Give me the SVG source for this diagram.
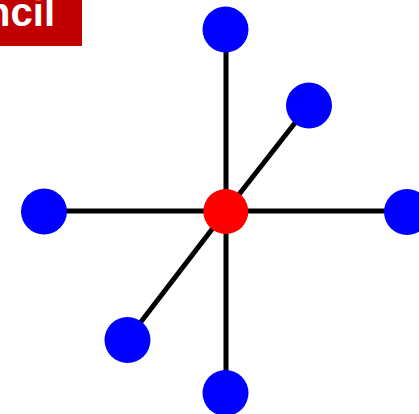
<svg xmlns="http://www.w3.org/2000/svg" width="419" height="414" viewBox="0 0 419 414">
<style>
.edge{stroke:#000;stroke-width:5;fill:none}
.leaf{fill:#0000ff}
.core{fill:#ff0000}
.title{font-family:"Liberation Sans",Arial,sans-serif;font-weight:bold;font-size:40px;fill:#fff}
</style>
<rect width="419" height="414" fill="#fff"/>
<g id="title">
<rect x="0" y="0" width="82" height="46" fill="#c00000"/>
<text class="title" x="55" y="26" text-anchor="end">Stencil</text>
</g>
<g id="connectors">
<line class="edge" x1="226" y1="211" x2="226" y2="29"/>
<line class="edge" x1="226" y1="211" x2="226" y2="393"/>
<line class="edge" x1="226" y1="211" x2="44" y2="211"/>
<line class="edge" x1="226" y1="211" x2="407" y2="211"/>
<line class="edge" x1="226" y1="211" x2="309" y2="105"/>
<line class="edge" x1="226" y1="211" x2="127" y2="340"/>
</g>
<g id="n-top"><circle class="leaf" cx="225.5" cy="29.5" r="23"/></g>
<g id="n-bottom"><circle class="leaf" cx="225.5" cy="393" r="23"/></g>
<g id="n-left"><circle class="leaf" cx="44" cy="211.5" r="23"/></g>
<g id="n-right"><circle class="leaf" cx="407" cy="212" r="23"/></g>
<g id="n-upright"><circle class="leaf" cx="309" cy="105.5" r="23"/></g>
<g id="n-lowleft"><circle class="leaf" cx="127.5" cy="340" r="23"/></g>
<g id="n-center"><circle class="core" cx="225.8" cy="211.5" r="22.5"/></g>
</svg>
